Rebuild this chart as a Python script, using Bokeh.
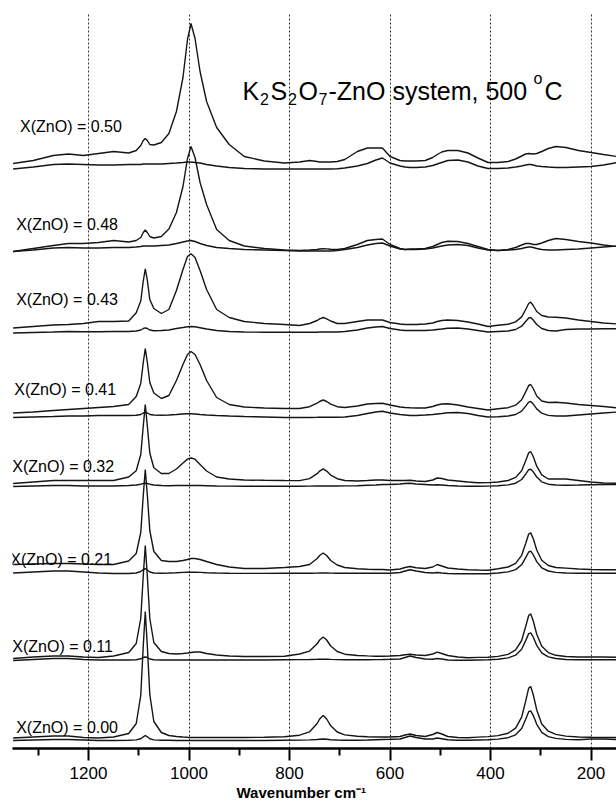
import numpy as np
from bokeh.plotting import figure
from bokeh.models import Range1d, FixedTicker, Title
from bokeh.core.properties import value
from bokeh.embed import file_html
from bokeh.resources import INLINE

# ---------------- data ----------------
wavenumber = [1350, 1310, 1270, 1240, 1210, 1180, 1150, 1120, 1105, 1096,
              1091, 1087, 1083, 1078, 1070, 1055, 1040, 1025, 1012, 1003,
              996, 988, 978, 965, 945, 920, 890, 850, 810, 780,
              760, 745, 740, 733, 726, 718, 705, 690, 665, 645,
              628, 615, 600, 580, 570, 560, 548, 530, 515, 506,
              497, 485, 465, 445, 425, 405, 385, 365, 350, 338,
              330, 324, 320, 315, 308, 298, 285, 270, 250, 225,
              200, 175, 148]

compositions = ["0.00", "0.11", "0.21", "0.32", "0.41", "0.43", "0.48", "0.50"]
pol_offset = [10, 90, 178, 265, 337, 422, 497, 585]
depol_offset = [8, 88, 174.5, 262, 331, 415.5, 497, 579.5]

pol_000 = [0.5, 1.5, 2.5, 2.5, 1, 0.5, 1.5, 5, 15, 43,
           93, 127, 93, 44, 17, 6, 3, 2, 1.5, 1.2,
           1, 1, 1, 1, 1, 1, 1, 1.2, 1.8, 3.3,
           6.7, 15, 19.5, 23, 19.5, 12.7, 6.5, 3.6, 2.2, 1.7,
           1.5, 1.5, 1.5, 2, 3.5, 4.5, 3, 2, 4, 6,
           4.5, 2, 1, 0.8, 1.4, 1.9, 2.9, 5.3, 10.4, 21.3,
           37.4, 50.4, 52, 44, 28.6, 14.5, 7.3, 4.1, 2.4, 1.5,
           1.2, 1, 1]
depol_000 = [0, 0.5, 1, 1, 0.5, 0, 0, 0.2, 0.6, 1.7,
             3.7, 5, 3.7, 1.7, 0.6, 0.3, 0.2, 0, 0, 0,
             0, 0, 0, 0, 0, 0, 0, 0, 0.2, 0.4,
             0.6, 1, 1.3, 1.5, 1.3, 0.8, 0.5, 0.3, 0.3, 0.5,
             0.8, 1, 1.2, 1.5, 3, 4.5, 3, 1.5, 1.5, 2.5,
             1.8, 0.8, 0.3, 0.2, 0.5, 0.8, 1.4, 2.8, 5.7, 12,
             21.3, 28.8, 29.7, 25.2, 16.2, 8.1, 3.9, 2.1, 1.1, 0.8,
             1.5, 1.5, 1]
pol_011 = [0, 1.5, 2.5, 2.5, 1.5, 1, 2.5, 6, 15, 40,
           83, 113, 83, 40, 16, 7, 5, 4.5, 5, 5.5,
           6, 6.5, 6.5, 5, 3.5, 2.5, 2, 2, 2.3, 4.5,
           7.4, 14.7, 18.5, 21.5, 18.5, 12.5, 7, 4.3, 3, 2.6,
           2.3, 2.2, 2.5, 3, 3.8, 4.2, 3.5, 3, 4.5, 6.3,
           5, 3, 1.5, 0.8, 1.1, 1.2, 2.1, 4.1, 8.6, 18,
           32, 43, 44.6, 37.8, 24.3, 12.2, 5.9, 3.2, 2, 1.5,
           1.5, 1.5, 1.3]
depol_011 = [0, 1, 2, 2, 1, 0.5, 0.5, 0.5, 0.8, 1.7,
             3, 3.5, 3, 1.5, 0.7, 0.5, 0.5, 0.5, 0.5, 0.5,
             0.5, 0.5, 0.5, 0.5, 0.5, 0.5, 0.5, 0.5, 0.7, 0.9,
             1, 1.2, 1.3, 1.4, 1.3, 1.1, 0.9, 0.8, 0.8, 0.8,
             0.9, 1, 1.2, 1.5, 3, 4.5, 3, 1.5, 1.2, 2,
             1.5, 0.5, 0.3, 0.2, 0.5, 0.8, 1.3, 2.6, 5.3, 11.2,
             19.9, 26.9, 27.7, 23.5, 15.1, 7.6, 3.6, 2, 1, 0.7,
             0.7, 0.7, 0.7]
pol_021 = [6, 6.5, 7, 7, 6.5, 6, 6, 9.5, 17, 38,
           75, 101, 76, 40, 19, 10, 9, 9, 10, 11,
           12, 12, 11, 9, 6, 3.5, 2, 2, 3, 4,
           6, 12, 15, 17.5, 15, 10, 5.5, 3, 1.8, 1.3,
           1, 1, 0.5, 1.5, 3, 4, 2.8, 2, 3.5, 6,
           4.5, 2.5, 1.5, 0.8, 0.5, 0.3, 1.7, 3.5, 7.2, 15.2,
           27, 36.5, 37.6, 32, 20.5, 10.3, 5, 3, 2.4, 1.5,
           1, 0.8, 0.7]
depol_021 = [1, 2, 3, 3, 2, 1, 0.5, 0.5, 1, 2.5,
             4.5, 5.5, 4, 2, 1, 0.8, 1, 1.3, 1.6, 1.8,
             1.8, 1.8, 1.6, 1.3, 1, 0.8, 0.6, 0.6, 0.8, 0.8,
             0.8, 0.9, 1, 1, 1, 0.9, 0.8, 0.8, 0.8, 0.8,
             0.8, 0.8, 0.8, 1.5, 3, 4.2, 3, 1.5, 1, 1.5,
             1, 0.5, 0.3, 0.2, 0.2, 0.3, 1, 2.1, 4.4, 9.2,
             16.3, 22, 22.8, 19.3, 12.4, 6.2, 3, 1.6, 1, 0.8,
             0.8, 0.8, 0.8]
pol_032 = [0, 1.5, 3, 3, 3, 3, 3, 6.5, 12.8, 29,
           57.5, 79, 58, 30.5, 15.7, 10, 10, 14.5, 20.5, 24.4,
           25.5, 24.3, 19, 12.5, 6.5, 4.5, 3.5, 3.2, 3, 2.9,
           4.9, 9.8, 12.4, 14.7, 12.4, 8.4, 4.8, 3, 2.5, 3,
           3.5, 3.5, 3, 3, 3, 3.2, 2.5, 2, 3.5, 5.5,
           5, 3.5, 2.5, 1.5, 0.8, 0.9, 1.5, 3, 6.1, 12.8,
           22.7, 30.7, 32, 27, 17.3, 8.6, 4.5, 4.5, 4.5, 3,
           1.5, 0.5, 0.3]
depol_032 = [0, 0.5, 1, 1, 0.5, 0.5, 0.5, 1, 1.5, 2.3,
             3, 3.3, 3, 2.3, 1.5, 1, 0.8, 1, 1, 1,
             1, 1, 1, 0.8, 0.5, 0.4, 0.3, 0.3, 0.3, 0.3,
             0.4, 0.5, 0.5, 0.5, 0.5, 0.5, 0.5, 0.6, 0.8, 1.2,
             1.5, 2, 2, 2.5, 3, 3.3, 2.5, 2, 1.5, 1.8,
             1.5, 1, 0.5, 0.3, 0.3, 0.4, 0.8, 1.6, 3.3, 7,
             12.4, 16.8, 17.3, 14.7, 9.5, 4.7, 2.3, 1.5, 1.3, 1.5,
             1.8, 2, 2]
pol_041 = [-1.5, -0.5, 1, 2, 3, 4, 5, 7, 15, 28,
           49, 63, 49.5, 29, 18.5, 13, 16, 31, 47, 57,
           60, 57, 47, 31, 14, 7, 4.5, 3.5, 3, 3,
           4.8, 8.3, 10, 11.5, 10, 7.3, 4.8, 4, 5.5, 7.5,
           8, 8.3, 6.5, 4.5, 4, 3.7, 3.5, 3.5, 5, 6.5,
           7.5, 7.7, 6.5, 4.5, 3, 1.5, 2.7, 3.8, 6.3, 11.7,
           19.6, 26, 27, 23, 15.5, 10.5, 9, 9.3, 8.5, 7,
           6, 5, 3.7]
depol_041 = [0, 0.5, 1, 1.5, 1.5, 2, 2, 2, 2.3, 3,
             4.5, 5.3, 4.5, 3, 2.5, 2.3, 2.5, 3, 3.5, 3.7,
             3.7, 3.5, 3, 2.5, 2, 1.5, 1, 0.5, 0, 0,
             0, 0.2, 0.3, 0.3, 0.3, 0.3, 0.3, 0.5, 2, 4,
             5.5, 6.3, 4.5, 3, 2.5, 2, 2, 2.5, 3, 3.5,
             4, 4.8, 5, 4, 2, 0.5, 0.7, 1.5, 3, 6.4,
             11.4, 15.4, 16, 13.4, 8.6, 4.3, 2.1, 1.5, 1.5, 2.5,
             3.5, 4.5, 5.5]
pol_043 = [-1.5, 0, 1.5, 2, 3, 5, 5, 5.5, 13.8, 25.5,
           45.5, 57.7, 46.5, 27, 18, 13, 17, 36, 57, 70,
           72.7, 69, 56, 37, 17, 9, 5, 3, 2, 1,
           3, 6, 7.7, 9, 7.7, 5.5, 3, 3, 5, 6.5,
           6.5, 6.5, 4, 2.5, 2, 2, 2, 2.5, 3.5, 5,
           6, 6.5, 6, 4.5, 2.5, 0, 1.2, 2.2, 4.6, 9.6,
           17, 23, 24.3, 21, 15, 11, 9.5, 9.3, 8.5, 6.5,
           5, 3.5, 2.5]
depol_043 = [0, 0.5, 1, 1.5, 1.3, 1.3, 1.5, 1.5, 2, 3,
             4.5, 5.2, 4.5, 3, 2.3, 2.5, 3, 4.5, 5.5, 6.2,
             6.5, 6.2, 5.3, 4, 2.5, 1.5, 1, 0.8, 0.8, 0.8,
             0.8, 0.8, 1, 1, 1, 1, 1, 1.5, 3, 5,
             6, 6.5, 4.5, 3, 2.5, 2.5, 2.5, 2.5, 3, 3.5,
             4, 4.8, 5, 4, 2.5, 1, 1.5, 2, 3.5, 6.8,
             11.5, 15, 15.5, 13, 8.5, 4.5, 2.5, 2, 3.5, 4,
             4, 4.2, 4.3]
pol_048 = [0, 3, 6, 8, 8, 9, 11, 9.5, 11, 14,
           19, 21.5, 19, 15, 13.5, 15, 22.5, 39, 65, 93,
           105, 94, 69, 47, 22, 11, 5.5, 3, 1.5, 1,
           1.5, 2, 2.5, 2.8, 2.6, 2.2, 2, 3, 7, 11,
           12, 12.5, 7, 3, 2, 2.5, 2.5, 3, 5, 7,
           9, 10.3, 10, 8, 5, 2, 1, 2, 4, 6.5,
           8, 8, 7.8, 7, 7, 8.5, 11, 13, 12, 10,
           8.5, 6.5, 5]
depol_048 = [0, 1.5, 3.5, 4, 3.5, 3.5, 4, 4, 4.5, 5,
             5.5, 5.5, 5.5, 5.5, 5.5, 6, 6.5, 8, 9.5, 10.5,
             11, 10, 8, 6, 4, 3, 2, 1.5, 1, 0.5,
             0.5, 0.5, 0.5, 0.5, 0.5, 0.5, 1, 2, 4, 6.5,
             8, 8.5, 5.5, 2.5, 2, 2, 2, 2.5, 3.5, 4.5,
             5.5, 6.5, 7, 6, 3.5, 1.5, 1, 1.5, 2, 3,
             4, 4.5, 4.5, 4, 3, 2, 1.5, 1.5, 2, 2.5,
             3.5, 4.5, 5.5]
pol_050 = [0, 3, 8, 9.5, 8, 10, 12, 10.5, 13, 18,
           23, 25, 23, 19, 18.5, 21, 30, 52, 86, 124,
           140, 125, 92, 62, 36, 19, 7, 2.5, 0.5, 1.5,
           3, 2, 1.5, 1.5, 1.5, 1.5, 2, 4, 12, 15.5,
           15.5, 15.5, 7, 3, 2.5, 2.5, 2.5, 3, 6, 9,
           11.5, 13, 13, 10.5, 5.5, 1, 1, 2, 4.5, 7.5,
           9.5, 10, 9.8, 9.5, 10, 12, 15, 17, 16, 13,
           11, 9, 7]
depol_050 = [0, 2, 4.5, 5, 4.5, 4, 4, 4.5, 4.5, 4.5,
             5, 5, 5, 5, 5, 5, 5.5, 6, 6.5, 7,
             7, 6.5, 6, 4.5, 3, 1.5, 0.5, 0, 0, 0,
             0, 0, 0, 0, 0, 0, 0.3, 1, 3, 5.5,
             9, 11, 6, 3, 2, 1.5, 1.5, 2, 3.5, 5,
             6.5, 8.5, 9, 7, 3, 0.5, 0.5, 1, 2, 3,
             4, 4.5, 4.5, 4, 3, 2.5, 2, 1.5, 1.5, 2,
             2.5, 4, 6.5]

pol_spectra = [pol_000, pol_011, pol_021, pol_032, pol_041, pol_043, pol_048, pol_050]
depol_spectra = [depol_000, depol_011, depol_021, depol_032, depol_041, depol_043, depol_048, depol_050]

tick_values = [1200, 1000, 800, 600, 400, 200]
minor_tick_values = [1300, 1100, 900, 700, 500, 300]

# ---------------- layout helpers (reference pixel -> data) ----------------
def px_to_w(px):
    return 1200 - (px - 88) / 0.5025

def py_to_h(py):
    return 748 - py

FONT = "Liberation Sans"

p = figure(width=616, height=806,
           x_range=Range1d(px_to_w(12), px_to_w(616)),
           y_range=Range1d(0, 736),
           output_backend="svg", toolbar_location=None,
           y_axis_location=None,
           min_border_left=12, min_border_right=0,
           min_border_top=12, min_border_bottom=58)
p.outline_line_color = None
p.background_fill_color = "white"
p.border_fill_color = "white"

ticker = FixedTicker(ticks=tick_values, minor_ticks=minor_tick_values)
ax = p.xaxis[0]
ax.ticker = ticker
ax.axis_line_width = 2.5
ax.axis_line_color = "black"
ax.major_tick_line_width = 2
ax.major_tick_out = 12
ax.major_tick_in = 0
ax.minor_tick_line_width = 2
ax.minor_tick_out = 7
ax.minor_tick_in = 0
ax.major_label_text_font = FONT
ax.major_label_text_font_size = "17px"
ax.major_label_text_color = "black"
ax.major_label_standoff = 6

# axis title placed below the axis (offset to match the reference position)
xtitle = Title(text="Wavenumber cm\u207b\u00b9", align="left", offset=224,
               text_font=FONT, text_font_style="bold", text_font_size="15px",
               text_color="black", standoff=0)
p.add_layout(xtitle, "below")

p.xgrid.ticker = ticker
p.xgrid.grid_line_color = "#333333"
p.xgrid.grid_line_dash = "2 2"
p.xgrid.grid_line_width = 1
p.ygrid.visible = False

wn = np.array(wavenumber, dtype=float)
for i in range(len(compositions)):
    p.line(wn, np.array(pol_spectra[i]) + pol_offset[i],
           line_color="#151515", line_width=1.4)
    p.line(wn, np.array(depol_spectra[i]) + depol_offset[i],
           line_color="#151515", line_width=1.4)

# composition labels
label_px = {"0.00": (15.7, 727), "0.11": (11.8, 646), "0.21": (9.8, 559),
            "0.32": (11.8, 466), "0.41": (13.8, 389), "0.43": (15.7, 299),
            "0.48": (15.7, 224), "0.50": (19.6, 126)}
lx = [px_to_w(label_px[c][0]) for c in compositions]
ly = [py_to_h(label_px[c][1]) for c in compositions]
lt = ["X(ZnO) = " + c for c in compositions]
p.text(x=lx, y=ly, text=lt, text_font=value(FONT), text_font_size=value("16px"),
       text_align="left", text_baseline="middle", text_color="black")

# title with sub/superscripts
main_x = [242, 270, 298, 328, 544]
main_t = ["K", "S", "O", "-ZnO system, 500", "C"]
p.text(x=[px_to_w(v) for v in main_x], y=[py_to_h(90)] * len(main_x), text=main_t,
       text_font=value(FONT), text_font_size=value("25px"),
       text_align="left", text_baseline="alphabetic", text_color="black")
sub_x = [259.5, 287.5, 318]
sub_t = ["2", "2", "7"]
p.text(x=[px_to_w(v) for v in sub_x], y=[py_to_h(98)] * len(sub_x), text=sub_t,
       text_font=value(FONT), text_font_size=value("16px"),
       text_align="left", text_baseline="alphabetic", text_color="black")
p.text(x=[px_to_w(533)], y=[py_to_h(78)], text=["o"],
       text_font=value(FONT), text_font_size=value("16px"),
       text_align="left", text_baseline="alphabetic", text_color="black")

open("out.html", "w").write(file_html(p, INLINE))
